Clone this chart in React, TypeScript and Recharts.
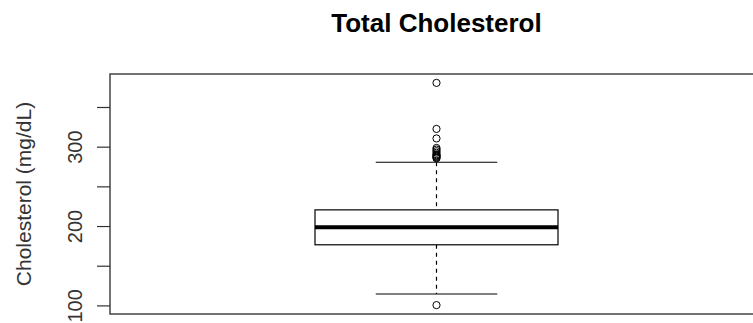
import React from 'react';
import { ComposedChart, Bar, Scatter, XAxis, YAxis, ReferenceArea, Label } from 'recharts';

// box plot summary
const categories = ['Total'];
const whiskerLow = [115];
const q1 = [177];
const median = [199];
const q3 = [221];
const whiskerHigh = [281];
const outliers = [101, 381, 323, 311, 299, 297, 295, 293, 291, 290, 289, 288, 287, 286];

const yTicks = [100, 150, 200, 250, 300, 350];
const yDomain = [89.8, 392.2];

const FONT = '"Liberation Sans", Arial, sans-serif';
const AXIS_COLOR = '#333';

const chartData = categories.map((name, i) => ({
    name,
    range: [whiskerLow[i], whiskerHigh[i]],
    lo: whiskerLow[i],
    q1: q1[i],
    med: median[i],
    q3: q3[i],
    hi: whiskerHigh[i],
}));

const outlierData = outliers.map((v) => ({ name: categories[0], value: v }));

const BoxShape = (props: any) => {
    const { x, y, width, height, payload } = props;
    const top = Math.min(y, y + height);
    const h = Math.abs(height);
    const { lo, hi } = payload;
    const yOf = (v: number) => top + ((hi - v) / (hi - lo)) * h;
    const cx = x + width / 2;
    const cap = width / 4;
    return (
        <g>
            <line x1={cx} x2={cx} y1={yOf(hi)} y2={yOf(payload.q3)} stroke="#000" strokeWidth={1.2} strokeDasharray="4 4" />
            <line x1={cx} x2={cx} y1={yOf(payload.q1)} y2={yOf(lo)} stroke="#000" strokeWidth={1.2} strokeDasharray="4 4" />
            <line x1={cx - cap} x2={cx + cap} y1={yOf(hi)} y2={yOf(hi)} stroke="#000" strokeWidth={1.2} />
            <line x1={cx - cap} x2={cx + cap} y1={yOf(lo)} y2={yOf(lo)} stroke="#000" strokeWidth={1.2} />
            <rect x={x} y={yOf(payload.q3)} width={width} height={yOf(payload.q1) - yOf(payload.q3)} fill="#fff" stroke="#000" strokeWidth={1.2} />
            <line x1={x} x2={x + width} y1={yOf(payload.med)} y2={yOf(payload.med)} stroke="#000" strokeWidth={4} />
        </g>
    );
};

const OutlierDot = (props: any) => {
    const { cx, cy } = props;
    return <circle cx={cx} cy={cy} r={3.6} fill="none" stroke="#000" strokeWidth={1} />;
};

const YTick = (props: any) => {
    const { x, y, payload } = props;
    if (payload.value % 100 !== 0) return null;
    const tx = x - 13;
    return (
        <text x={tx} y={y} transform={`rotate(-90, ${tx}, ${y})`} textAnchor="middle" fontSize={20} fontFamily={FONT} fill={AXIS_COLOR}>
            {payload.value}
        </text>
    );
};

const YLabel = (props: any) => {
    const vb = props.viewBox || {};
    const cy = (vb.y || 0) + (vb.height || 0) / 2;
    const tx = 31;
    return (
        <text x={tx} y={cy} transform={`rotate(-90, ${tx}, ${cy})`} textAnchor="middle" fontSize={21} fontFamily={FONT} fill={AXIS_COLOR}>
            Cholesterol (mg/dL)
        </text>
    );
};

const App: React.FC = () => {
    return (
        <div style={{ position: 'absolute', left: 0, top: 0, width: 753, height: 323, overflow: 'hidden', background: '#fff' }}>
            <div
                style={{
                    position: 'absolute',
                    left: 0,
                    top: 10,
                    width: 873,
                    textAlign: 'center',
                    fontFamily: FONT,
                    fontWeight: 'bold',
                    fontSize: 26,
                    lineHeight: '26px',
                    color: '#000',
                }}
            >
                Total Cholesterol
            </div>
            <ComposedChart width={763} height={323} data={chartData} margin={{ top: 74, right: 0, bottom: 9, left: 0 }}>
                <XAxis dataKey="name" type="category" hide allowDuplicatedCategory={false} />
                <YAxis
                    type="number"
                    domain={yDomain}
                    ticks={yTicks}
                    allowDataOverflow
                    width={110}
                    axisLine={false}
                    tickSize={13}
                    tickLine={{ stroke: AXIS_COLOR, strokeWidth: 1.2 }}
                    tick={<YTick />}
                    interval={0}
                >
                    <Label content={<YLabel />} />
                </YAxis>
                <ReferenceArea y1={yDomain[0]} y2={yDomain[1]} fill="none" stroke="#444" strokeWidth={1.5} fillOpacity={0} />
                <Bar dataKey="range" barSize={243} shape={<BoxShape />} isAnimationActive={false} />
                <Scatter data={outlierData} dataKey="value" shape={<OutlierDot />} isAnimationActive={false} />
            </ComposedChart>
        </div>
    );
};

export default App;
